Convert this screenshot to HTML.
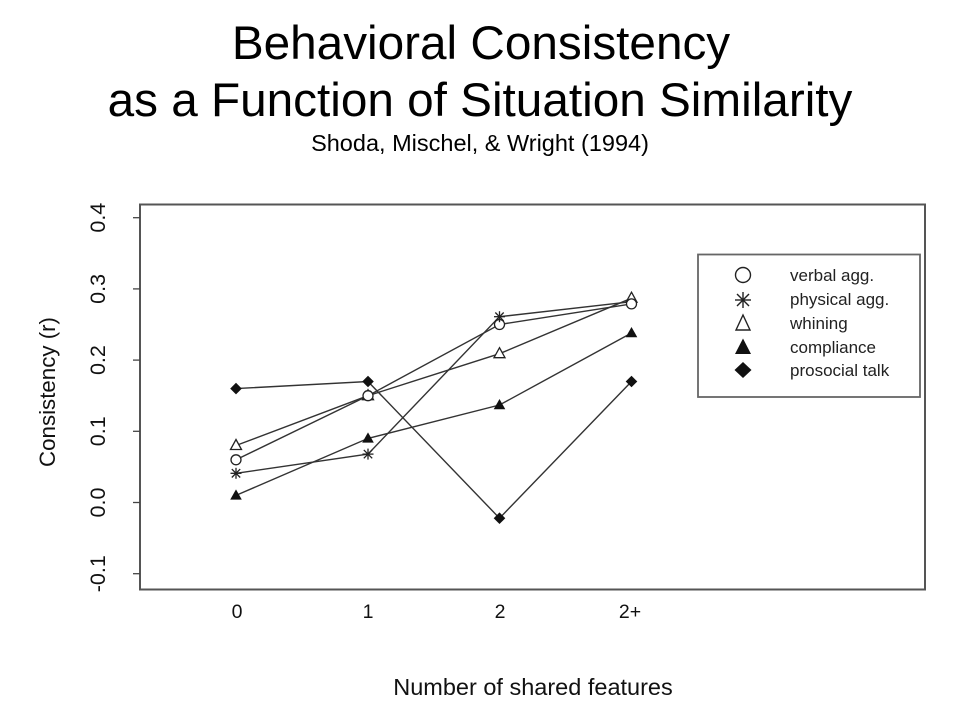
<!DOCTYPE html>
<html>
<head>
<meta charset="utf-8">
<style>
html,body{margin:0;padding:0;background:#fff;}
svg{display:block;}
text{font-family:"Liberation Sans",Arial,sans-serif;}
</style>
</head>
<body>
<svg width="960" height="720" viewBox="0 0 960 720" xmlns="http://www.w3.org/2000/svg">
<rect width="960" height="720" fill="#fff"/>
<!-- Titles -->
<text x="481" y="59" font-size="47.7" text-anchor="middle" fill="#000">Behavioral Consistency</text>
<text x="480" y="116" font-size="47.7" text-anchor="middle" fill="#000">as a Function of Situation Similarity</text>
<text x="480" y="151" font-size="23.5" text-anchor="middle" fill="#000">Shoda, Mischel, &amp; Wright (1994)</text>

<!-- Plot box -->
<rect x="140" y="204.5" width="785" height="385" fill="none" stroke="#555" stroke-width="2"/>

<!-- Y ticks -->
<g stroke="#444" stroke-width="1.3">
<line x1="133" y1="217.7" x2="140" y2="217.7"/>
<line x1="133" y1="288.9" x2="140" y2="288.9"/>
<line x1="133" y1="360.1" x2="140" y2="360.1"/>
<line x1="133" y1="431.3" x2="140" y2="431.3"/>
<line x1="133" y1="502.5" x2="140" y2="502.5"/>
<line x1="133" y1="573.7" x2="140" y2="573.7"/>
</g>
<g font-size="21.5" fill="#111" text-anchor="middle">
<text transform="translate(105,217.7) rotate(-90)">0.4</text>
<text transform="translate(105,288.9) rotate(-90)">0.3</text>
<text transform="translate(105,360.1) rotate(-90)">0.2</text>
<text transform="translate(105,431.3) rotate(-90)">0.1</text>
<text transform="translate(105,502.5) rotate(-90)">0.0</text>
<text transform="translate(105,573.7) rotate(-90)">-0.1</text>
</g>
<text transform="translate(55,392) rotate(-90)" font-size="22.3" text-anchor="middle" fill="#111">Consistency (r)</text>

<!-- X labels -->
<g font-size="19.5" fill="#111" text-anchor="middle">
<text x="237" y="618">0</text>
<text x="368" y="618">1</text>
<text x="500" y="618">2</text>
<text x="630" y="618">2+</text>
</g>
<text x="533" y="695" font-size="23.5" text-anchor="middle" fill="#111">Number of shared features</text>

<!-- Series lines -->
<g fill="none" stroke="#333" stroke-width="1.4">
<polyline points="236,459.8 368,395.7 499.5,324.5 631.5,303.9"/>
<polyline points="236,473.3 368,454.1 499.5,316.7 631.5,301.7"/>
<polyline points="236,445.5 368,395.7 499.5,353.7 631.5,298.2"/>
<polyline points="236,495.4 368,438.4 499.5,405.0 631.5,333.0"/>
<polyline points="236,388.6 368,381.5 499.5,518.2 631.5,381.5"/>
</g>

<defs>
<g id="circ"><circle cx="0" cy="0" r="5" fill="#fff" stroke="#222" stroke-width="1.3"/></g>
<g id="ast" stroke="#222" stroke-width="1.3"><line x1="-5.5" y1="0" x2="5.5" y2="0"/><line x1="0" y1="-5.5" x2="0" y2="5.5"/><line x1="-4.2" y1="-4.2" x2="4.2" y2="4.2"/><line x1="-4.2" y1="4.2" x2="4.2" y2="-4.2"/></g>
<g id="otri"><polygon points="0,-6 5.5,4 -5.5,4" fill="#fff" stroke="#222" stroke-width="1.3"/></g>
<g id="ftri"><polygon points="0,-6 5.8,4.2 -5.8,4.2" fill="#111"/></g>
<g id="dia"><polygon points="0,-5.8 5.8,0 0,5.8 -5.8,0" fill="#111"/></g>
</defs>

<!-- Markers -->
<use href="#otri" x="236" y="445.5"/><use href="#otri" x="368" y="395.7"/><use href="#otri" x="499.5" y="353.7"/><use href="#otri" x="631.5" y="298.2"/>
<use href="#circ" x="236" y="459.8"/><use href="#circ" x="368" y="395.7"/><use href="#circ" x="499.5" y="324.5"/><use href="#circ" x="631.5" y="303.9"/>
<use href="#ast" x="236" y="473.3"/><use href="#ast" x="368" y="454.1"/><use href="#ast" x="499.5" y="316.7"/>
<use href="#ftri" x="236" y="495.4"/><use href="#ftri" x="368" y="438.4"/><use href="#ftri" x="499.5" y="405.0"/><use href="#ftri" x="631.5" y="333.0"/>
<use href="#dia" x="236" y="388.6"/><use href="#dia" x="368" y="381.5"/><use href="#dia" x="499.5" y="518.2"/><use href="#dia" x="631.5" y="381.5"/>

<!-- Legend -->
<rect x="698" y="254.5" width="222" height="142.5" fill="#fff" stroke="#666" stroke-width="1.8"/>
<g>
<circle cx="743" cy="275" r="7.5" fill="#fff" stroke="#222" stroke-width="1.4"/>
<g stroke="#222" stroke-width="1.4" transform="translate(743,300)"><line x1="-8" y1="0" x2="8" y2="0"/><line x1="0" y1="-8" x2="0" y2="8"/><line x1="-6" y1="-6" x2="6" y2="6"/><line x1="-6" y1="6" x2="6" y2="-6"/></g>
<polygon points="743,315 750,330 736,330" fill="#fff" stroke="#222" stroke-width="1.4"/>
<polygon points="743,338.5 751,354 735,354" fill="#111"/>
<polygon points="743,362 751.5,370 743,378 734.5,370" fill="#111"/>
</g>
<g font-size="17" fill="#222">
<text x="790" y="281">verbal agg.</text>
<text x="790" y="305">physical agg.</text>
<text x="790" y="329">whining</text>
<text x="790" y="353">compliance</text>
<text x="790" y="376">prosocial talk</text>
</g>
</svg>
</body>
</html>
